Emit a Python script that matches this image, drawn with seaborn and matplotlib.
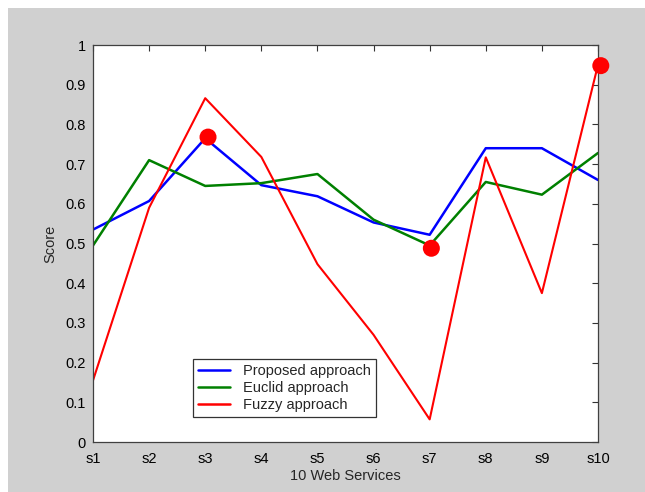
import matplotlib
matplotlib.use("Agg")
import matplotlib.pyplot as plt
import seaborn as sns
import pandas as pd
import numpy as np

services = ["s1", "s2", "s3", "s4", "s5", "s6", "s7", "s8", "s9", "s10"]
proposed = [0.535, 0.607, 0.765, 0.647, 0.619, 0.553, 0.522, 0.740, 0.740, 0.660]
euclid = [0.495, 0.710, 0.645, 0.652, 0.675, 0.560, 0.495, 0.655, 0.623, 0.728]
fuzzy = [0.155, 0.590, 0.866, 0.718, 0.448, 0.270, 0.057, 0.717, 0.375, 0.950]
series_names = ["Proposed approach", "Euclid approach", "Fuzzy approach"]
colors = ["#0000ff", "#008000", "#ff0000"]
dot_x = [3.05, 7.03, 10.05]
dot_y = [0.768, 0.488, 0.948]

sns.set_style("white")
plt.rcParams["font.family"] = ["Liberation Sans", "DejaVu Sans"]

xs = np.arange(1, len(services) + 1)
df = pd.DataFrame({
    "x": np.concatenate([xs, xs, xs]),
    "score": proposed + euclid + fuzzy,
    "method": sum([[n] * len(services) for n in series_names], []),
})

fig = plt.figure(figsize=(6.45, 4.92), dpi=100, facecolor="white")
# gray figure panel
bg = fig.add_axes([8 / 645, 0, 637 / 645, 484 / 492])
bg.set_facecolor("#d0d0d0")
bg.set_xticks([]); bg.set_yticks([])
for s in bg.spines.values():
    s.set_visible(False)
bg.set_zorder(-10)

ax = fig.add_axes([93 / 645, 50 / 492, 505 / 645, 397 / 492])
ax.set_facecolor("white")
sns.lineplot(data=df, x="x", y="score", hue="method", palette=dict(zip(series_names, colors)),
             hue_order=series_names, ax=ax, linewidth=1.8, legend=True)
for ln, lw in zip(ax.get_lines(), [1.8, 1.8, 1.5]):
    ln.set_linewidth(lw)
sns.scatterplot(x=dot_x, y=dot_y, color="#ff0000", s=150, edgecolor="none", ax=ax, zorder=5, clip_on=False)

ax.set_xlim(1, 10)
ax.set_ylim(0, 1)
ax.set_xticks(xs)
ax.set_xticklabels(services)
yt = np.round(np.arange(0, 1.01, 0.1), 1)
ax.set_yticks(yt)
ax.set_yticklabels(["0" if v == 0 else ("1" if v == 1 else f"{v:.1f}") for v in yt])
ax.tick_params(direction="in", length=4, width=0.8, top=True, right=True, labelsize=10.5,
               colors="#333333", labelcolor="black")
ax.tick_params(axis="x", pad=7)
ax.tick_params(axis="y", pad=5)
for s in ax.spines.values():
    s.set_color("#404040")
    s.set_linewidth(0.9)
ax.set_xlabel("10 Web Services", fontsize=10.5, labelpad=2)
ax.set_ylabel("Score", fontsize=10.5, labelpad=6)

handles, labels = ax.get_legend_handles_labels()
leg = ax.legend(handles[:3], labels[:3], loc="lower left", bbox_to_anchor=(0.198, 0.063),
                frameon=True, fancybox=False, edgecolor="#333333", framealpha=1,
                fontsize=10.5, handlelength=2.2, borderpad=0.35, labelspacing=0.2,
                handletextpad=0.9, borderaxespad=0)
leg.get_frame().set_linewidth(0.9)

fig.savefig("out.png", dpi=100, facecolor="white")
